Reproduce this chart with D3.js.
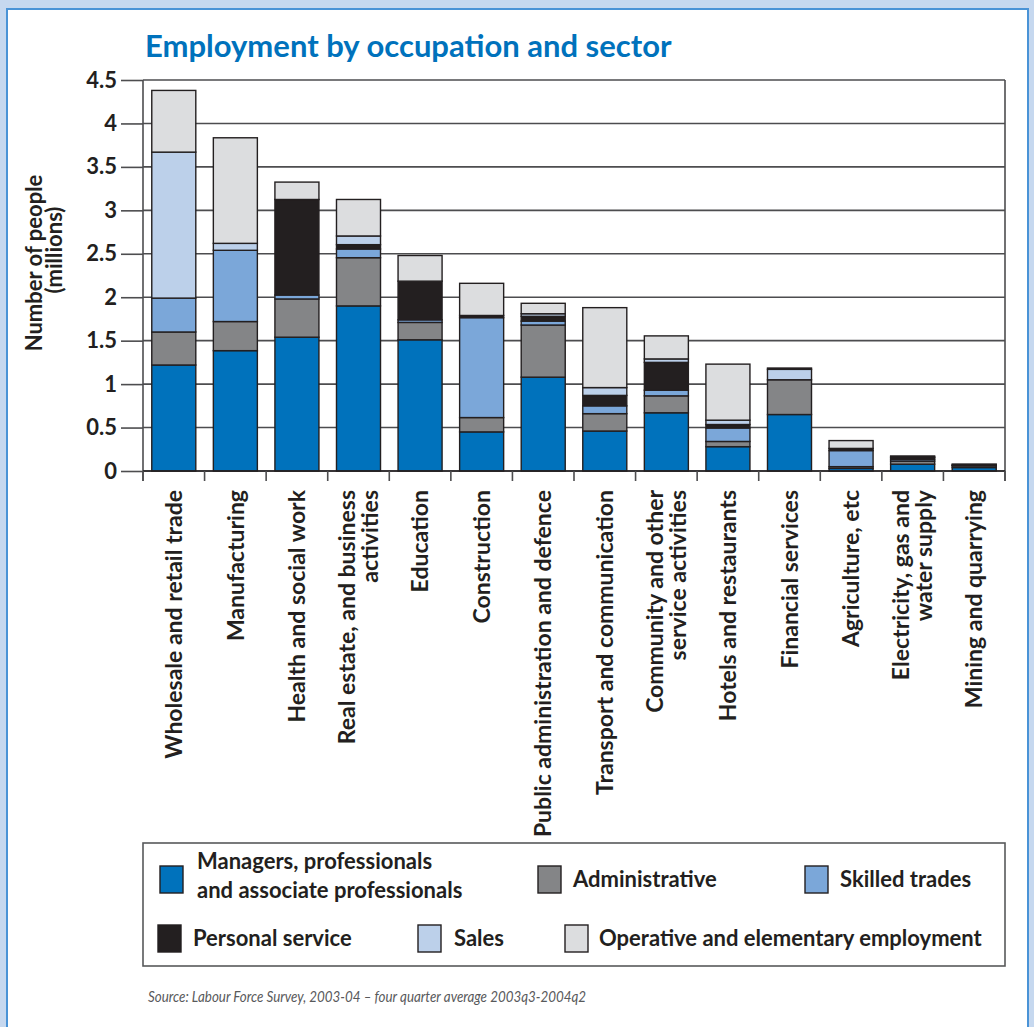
<!DOCTYPE html>
<html>
<head>
<meta charset="utf-8">
<script src="https://cdn.jsdelivr.net/npm/d3@7"></script>
<style>
  body { margin: 0; background: #c6d8ef; }
  svg { display: block; }
  text { font-family: Lato, "Open Sans", sans-serif; }
</style>
</head>
<body>
<svg id="chart" width="1034" height="1027"></svg>
<script>
// Sectors, in the order drawn along the x axis (each label split into lines)
const sectors = [
  ["Wholesale and retail trade"],
  ["Manufacturing"],
  ["Health and social work"],
  ["Real estate, and business", "activities"],
  ["Education"],
  ["Construction"],
  ["Public administration and defence"],
  ["Transport and communication"],
  ["Community and other", "service activities"],
  ["Hotels and restaurants"],
  ["Financial services"],
  ["Agriculture, etc"],
  ["Electricity, gas and", "water supply"],
  ["Mining and quarrying"]
];

// Occupation groups (stack order, bottom to top)
const occupations = [
  "Managers, professionals and associate professionals",
  "Administrative",
  "Skilled trades",
  "Personal service",
  "Sales",
  "Operative and elementary employment"
];
const occupationColors = ["#0072bc", "#848587", "#7ba7d9", "#231f20", "#bcd0ea", "#dcdddf"];

// Number of people employed, millions
const managers   = [1.22, 1.385, 1.54, 1.90, 1.51, 0.45, 1.08, 0.46, 0.67, 0.28, 0.65, 0.03, 0.078, 0.04];
const admin      = [0.38, 0.335, 0.44, 0.555, 0.20, 0.165, 0.60, 0.20, 0.195, 0.06, 0.40, 0.02, 0.035, 0.02];
const skilled    = [0.39, 0.82, 0.045, 0.10, 0.03, 1.15, 0.045, 0.09, 0.065, 0.155, 0.0, 0.185, 0.02, 0.005];
const personal   = [0.0, 0.0, 1.10, 0.05, 0.445, 0.025, 0.055, 0.12, 0.32, 0.04, 0.0, 0.025, 0.02, 0.005];
const sales      = [1.68, 0.08, 0.0, 0.10, 0.0, 0.0, 0.03, 0.09, 0.04, 0.05, 0.12, 0.0, 0.01, 0.0];
const operative  = [0.71, 1.215, 0.20, 0.42, 0.295, 0.37, 0.12, 0.92, 0.265, 0.645, 0.015, 0.09, 0.01, 0.01];

const yTickValues = [0, 0.5, 1, 1.5, 2, 2.5, 3, 3.5, 4, 4.5];
const yTickLabels = ["0", "0.5", "1", "1.5", "2", "2.5", "3", "3.5", "4", "4.5"];

const svg = d3.select("#chart");
const ink = "#231f20";

// Page panel with blue rule
svg.append("rect").attr("x", 0).attr("y", 0).attr("width", 1034).attr("height", 1027).attr("fill", "#c6d8ef");
svg.append("rect").attr("x", 7).attr("y", 9).attr("width", 1021).attr("height", 1030)
  .attr("fill", "#ffffff").attr("stroke", "#4a93d6").attr("stroke-width", 2);

// Title
svg.append("text").attr("x", 145).attr("y", 57)
  .attr("fill", "#0072bc").attr("font-size", 31).attr("font-weight", 700)
  .text("Employment by occupation and sector");

// Plot geometry
const plotLeft = 143, plotRight = 1005, plotTop = 80, plotBottom = 471;

const x = d3.scaleBand()
  .domain(d3.range(sectors.length))
  .range([plotLeft, plotRight])
  .paddingInner(0.285)
  .paddingOuter(0.1425);

const y = d3.scaleLinear().domain([0, 4.5]).range([plotBottom, plotTop]);

// Rows for stacking
const series = [managers, admin, skilled, personal, sales, operative];
const rows = sectors.map((s, i) => {
  const r = { index: i };
  occupations.forEach((o, k) => { r[o] = series[k][i]; });
  return r;
});
const stacked = d3.stack().keys(occupations)(rows);

// Gridlines
svg.append("g").selectAll("line").data(yTickValues).join("line")
  .attr("x1", plotLeft).attr("x2", plotRight)
  .attr("y1", d => y(d)).attr("y2", d => y(d))
  .attr("stroke", "#4d4d4f").attr("stroke-width", 1.6);

// Left axis with outward ticks
const yAxis = d3.axisLeft(y)
  .tickValues(yTickValues)
  .tickFormat((d, i) => yTickLabels[i])
  .tickSize(22)
  .tickPadding(4);
const gy = svg.append("g").attr("transform", `translate(${plotLeft},0)`).call(yAxis);
gy.select(".domain").remove();
gy.selectAll(".tick line").attr("stroke", "#4d4d4f").attr("stroke-width", 1.6);
gy.selectAll(".tick text").attr("font-size", 22).attr("font-weight", 700).attr("fill", ink)
  .attr("font-family", "Lato, sans-serif");

// Bars
svg.append("g").selectAll("g").data(stacked).join("g")
  .attr("fill", (d, k) => occupationColors[k])
  .selectAll("rect")
  .data(d => d.filter(seg => seg[1] - seg[0] > 0))
  .join("rect")
  .attr("x", seg => x(seg.data.index))
  .attr("width", x.bandwidth())
  .attr("y", seg => y(seg[1]))
  .attr("height", seg => y(seg[0]) - y(seg[1]))
  .attr("stroke", ink).attr("stroke-width", 1.4);

// Frame lines: vertical axis, right edge, baseline
const frame = svg.append("g").attr("stroke", "#4d4d4f").attr("stroke-width", 1.6);
frame.append("line").attr("x1", plotLeft).attr("x2", plotLeft).attr("y1", plotTop).attr("y2", plotBottom + 10);
frame.append("line").attr("x1", plotRight).attr("x2", plotRight).attr("y1", plotTop).attr("y2", plotBottom + 10);
frame.append("line").attr("x1", plotLeft).attr("x2", plotRight).attr("y1", plotBottom).attr("y2", plotBottom).attr("stroke", ink);

// Category divider ticks below the baseline
const step = x.step();
const boundaries = d3.range(sectors.length + 1).map(i => plotLeft + i * step);
frame.append("g").selectAll("line").data(boundaries).join("line")
  .attr("x1", d => d).attr("x2", d => d)
  .attr("y1", plotBottom).attr("y2", plotBottom + 10);

// Rotated sector labels
const lh = 23;
const labels = svg.append("g").selectAll("text").data(sectors).join("text")
  .attr("transform", (d, i) => `translate(${x(i) + x.bandwidth() / 2},490) rotate(-90)`)
  .attr("text-anchor", "end")
  .attr("font-size", 23).attr("font-weight", 700).attr("fill", ink);
labels.each(function(lines) {
  const t = d3.select(this);
  lines.forEach((ln, j) => {
    const off = (j - (lines.length - 1) / 2) * lh;
    t.append("tspan").attr("x", 0).attr("y", off).attr("dy", "0.36em").text(ln);
  });
});

// Y axis title
const yTitle = svg.append("g").attr("font-size", 22).attr("font-weight", 700).attr("fill", ink)
  .attr("text-anchor", "middle");
yTitle.append("text").attr("transform", "translate(42,263) rotate(-90)").text("Number of people");
yTitle.append("text").attr("transform", "translate(62,250) rotate(-90)").text("(millions)");

// Legend
const legend = svg.append("g");
legend.append("rect").attr("x", 143).attr("y", 843).attr("width", 862).attr("height", 123)
  .attr("fill", "#ffffff").attr("stroke", "#58595b").attr("stroke-width", 1.6);

const legendItems = [
  { k: 0, sx: 160, sy: 866, tx: 197, lines: ["Managers, professionals", "and associate professionals"], ty: [869, 898] },
  { k: 1, sx: 538, sy: 866, tx: 573, lines: ["Administrative"], ty: [887] },
  { k: 2, sx: 805, sy: 866, tx: 840, lines: ["Skilled trades"], ty: [887] },
  { k: 3, sx: 158, sy: 925, tx: 193, lines: ["Personal service"], ty: [946] },
  { k: 4, sx: 418, sy: 925, tx: 454, lines: ["Sales"], ty: [946] },
  { k: 5, sx: 565, sy: 925, tx: 599, lines: ["Operative and elementary employment"], ty: [946] }
];
legendItems.forEach(it => {
  legend.append("rect").attr("x", it.sx).attr("y", it.sy).attr("width", 23).attr("height", 27)
    .attr("fill", occupationColors[it.k]).attr("stroke", ink).attr("stroke-width", 1.4);
  it.lines.forEach((ln, j) => {
    legend.append("text").attr("x", it.tx).attr("y", it.ty[j])
      .attr("font-size", 22).attr("font-weight", 700).attr("fill", ink).text(ln);
  });
});

// Source note
svg.append("text").attr("x", 148).attr("y", 1002)
  .attr("font-size", 14.5).attr("font-style", "italic").attr("font-weight", 400).attr("fill", "#58595b")
  .attr("textLength", 438).attr("lengthAdjust", "spacingAndGlyphs")
  .text("Source: Labour Force Survey, 2003-04 \u2013 four quarter average 2003q3-2004q2");
</script>
</body>
</html>
